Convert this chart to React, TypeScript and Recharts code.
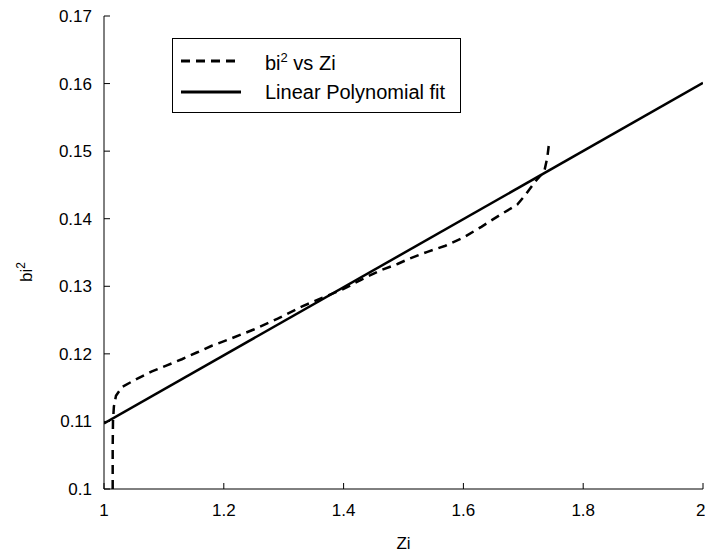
import { LineChart, Line, XAxis, YAxis, Legend, Label } from "recharts";

// measured curve bi^2 against Zi
const zi = [
  1.0145, 1.0145, 1.015, 1.0165, 1.02, 1.03, 1.055, 1.08, 1.105, 1.13, 1.155,
  1.18, 1.21, 1.25, 1.29, 1.33, 1.365, 1.4, 1.43, 1.46, 1.49, 1.51, 1.54, 1.57,
  1.6, 1.63, 1.66, 1.69, 1.705, 1.72, 1.735, 1.74, 1.743,
];
const bi2 = [
  0.1, 0.106, 0.11, 0.1122, 0.1138, 0.1151, 0.1163, 0.1174, 0.1183, 0.1192,
  0.1202, 0.1212, 0.1222, 0.1236, 0.1252, 0.127, 0.1283, 0.1296, 0.131, 0.1323,
  0.1333, 0.1341, 0.1351, 0.136, 0.1372, 0.1388, 0.1405, 0.1421, 0.1437, 0.1455,
  0.147, 0.149, 0.1512,
];

// linear polynomial fit
const fitZi = [1, 2];
const fitBi2 = [0.1097, 0.1601];

const xTicks = [1, 1.2, 1.4, 1.6, 1.8, 2];
const yTicks = [0.1, 0.11, 0.12, 0.13, 0.14, 0.15, 0.16, 0.17];

const curve = zi.map((x, i) => ({ zi: x, bi2: bi2[i] }));
const fit = fitZi.map((x, i) => ({ zi: x, fit: fitBi2[i] }));

const FONT = "'Liberation Sans', Arial, sans-serif";

const legendRows = [
  { key: "bi2", dash: "9 6", label: <>bi<sup style={{ fontSize: 13 }}>2</sup> vs Zi</> },
  { key: "fit", dash: undefined, label: <>Linear Polynomial fit</> },
];

function BoxLegend() {
  return (
    <div
      style={{
        border: "1.5px solid #000",
        background: "#fff",
        width: 289,
        height: 75,
        boxSizing: "border-box",
        fontFamily: FONT,
        fontSize: 20,
        color: "#000",
        paddingTop: 6,
      }}
    >
      {legendRows.map((r) => (
        <div key={r.key} style={{ display: "flex", alignItems: "center", height: 31 }}>
          <svg width={84} height={10} style={{ marginLeft: 8 }}>
            <line x1={0} y1={5} x2={60} y2={5} stroke="#000" strokeWidth={3} strokeDasharray={r.dash} />
          </svg>
          <span style={{ lineHeight: "20px" }}>{r.label}</span>
        </div>
      ))}
    </div>
  );
}

export default function App() {
  return (
    <div style={{ position: "absolute", left: 0, top: 0, background: "#fff" }}>
      <LineChart
        width={705}
        height={554}
        margin={{ top: 16, right: 2, bottom: 0, left: 0 }}
        style={{ fontFamily: FONT }}
      >
        <XAxis
          type="number"
          dataKey="zi"
          domain={[1, 2]}
          ticks={xTicks}
          allowDataOverflow
          height={65}
          tickSize={-6}
          tickMargin={21}
          stroke="#000"
          tick={{ fill: "#000", fontSize: 17 }}
        >
          <Label
            content={({ viewBox }: any) => (
              <text x={viewBox.x + viewBox.width / 2} y={549} textAnchor="middle" fontSize={17} fill="#000">
                Zi
              </text>
            )}
          />
        </XAxis>
        <YAxis
          type="number"
          domain={[0.1, 0.17]}
          ticks={yTicks}
          allowDataOverflow
          width={104}
          tickSize={-6}
          tickMargin={18}
          stroke="#000"
          tick={{ fill: "#000", fontSize: 17 }}
        >
          <Label
            content={() => (
              <text x={32} y={272} transform="rotate(-90, 32, 272)" textAnchor="middle" fontSize={17} fill="#000">
                bi<tspan dy={-7} fontSize={12}>2</tspan>
              </text>
            )}
          />
        </YAxis>
        <Legend
          layout="vertical"
          align="center"
          verticalAlign="middle"
          content={() => <BoxLegend />}
          wrapperStyle={{ position: "absolute", left: 172, top: 38, width: 289, height: 75 }}
        />
        <Line
          data={curve}
          dataKey="bi2"
          type="linear"
          stroke="#000"
          strokeWidth={2.5}
          strokeDasharray="9 6"
          dot={false}
          isAnimationActive={false}
        />
        <Line
          data={fit}
          dataKey="fit"
          type="linear"
          stroke="#000"
          strokeWidth={2.5}
          dot={false}
          isAnimationActive={false}
        />
      </LineChart>
    </div>
  );
}
